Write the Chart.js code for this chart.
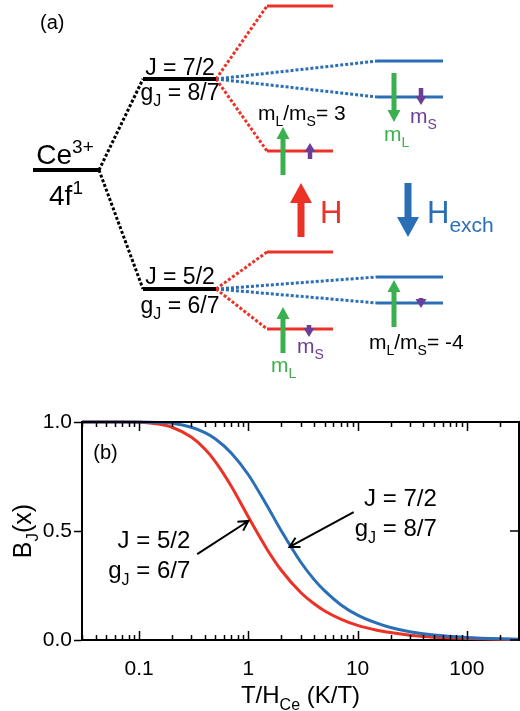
<!DOCTYPE html>
<html>
<head>
<meta charset="utf-8">
<script src="https://cdn.jsdelivr.net/npm/chart.js@4.4.1/dist/chart.umd.min.js"></script>
<style>
  html, body { margin: 0; padding: 0; background: #fff; }
  #wrap { position: relative; width: 520px; height: 711px; }
  #levels { position: absolute; left: 0; top: 0; }
  #brillouin { position: absolute; left: 0; top: 390px; }
</style>
</head>
<body>
<div id="wrap">
  <canvas id="levels" width="520" height="390"></canvas>
  <canvas id="brillouin" width="520" height="321"></canvas>
</div>
<script>
const FONT = '"Liberation Sans", Arial, Helvetica, sans-serif';
const RED = '#ec3127', BLUE = '#2a6fb6', GREEN = '#3bb04f', PURPLE = '#6a3f97';

// (a) level scheme, diagram units: x across, E upwards
const colIon = [33, 99];
const colJ = [143, 216];
const colZeeman = [267, 333];
const colExch = [377, 443];
const ionE = 220;
const jE = [311, 101];                    // J = 7/2, J = 5/2
const zeemanE = [[384, 239], [138, 61]];  // split by H
const exchE = [[329, 293], [113, 87]];    // split by H_exch

// moment arrows [x, from E, to E]
const mLArrows = [[283, 215, 263], [394, 317, 268], [283, 37, 83], [394, 63, 110]];
const mSArrows = [[310, 231, 247], [421, 302, 285], [309, 65, 53], [421, 92, 82]];
const fieldArrow = [301, 153, 207];
const exchArrow = [408, 207, 153];

// (b) Brillouin curves
const tOverH = [0.03, 0.05, 0.07, 0.1, 0.15, 0.2, 0.3, 0.4, 0.5, 0.7, 1, 1.5, 2, 3, 4, 5, 7, 10, 15, 20, 30, 50, 100, 200, 300];
const bJ52 = [1.000, 1.000, 1.000, 0.999, 0.991, 0.976, 0.931, 0.876, 0.817, 0.704, 0.564, 0.412, 0.320, 0.219, 0.166, 0.133, 0.096, 0.067, 0.045, 0.034, 0.022, 0.013, 0.007, 0.003, 0.002];
const bJ72 = [1.000, 1.000, 1.000, 1.000, 0.998, 0.994, 0.976, 0.951, 0.922, 0.857, 0.758, 0.611, 0.501, 0.359, 0.277, 0.225, 0.162, 0.114, 0.077, 0.057, 0.038, 0.023, 0.012, 0.006, 0.004];
const xMajor = [0.1, 1, 10, 100];
const yMajor = [0, 0.5, 1];

// text with sub/superscripts; parts = [[text, 'n'|'sub'|'sup'], ...]
function rich(ctx, parts, x, y, size, align, color) {
  let w = 0;
  const seg = parts.map(([t, k]) => {
    const s = k === 'n' ? size : Math.round(size * 0.68);
    ctx.font = s + 'px ' + FONT;
    const sw = ctx.measureText(t).width;
    w += sw;
    return { t, s, sw, dy: k === 'sub' ? size * 0.28 : k === 'sup' ? -size * 0.4 : 0 };
  });
  let cx = align === 'right' ? x - w : align === 'center' ? x - w / 2 : x;
  ctx.fillStyle = color;
  ctx.textAlign = 'left';
  ctx.textBaseline = 'alphabetic';
  seg.forEach(g => {
    ctx.font = g.s + 'px ' + FONT;
    ctx.fillText(g.t, cx, y + g.dy);
    cx += g.sw;
  });
}

function blockArrow(ctx, x, y0, y1, stem, head, headLen, color) {
  const dir = Math.sign(y1 - y0);
  const yb = y1 - dir * headLen;
  ctx.fillStyle = color;
  ctx.fillRect(x - stem / 2, Math.min(y0, yb), stem, Math.abs(yb - y0));
  ctx.beginPath();
  ctx.moveTo(x - head / 2, yb);
  ctx.lineTo(x + head / 2, yb);
  ctx.lineTo(x, y1);
  ctx.closePath();
  ctx.fill();
}

// ---------- (a) ----------
const seg = (x0, y0, x1, y1, color, width, dash) => ({
  data: [{ x: x0, y: y0 }, { x: x1, y: y1 }],
  borderColor: color, borderWidth: width, borderDash: dash || [],
  pointRadius: 0, borderCapStyle: 'butt'
});

const levelSets = [seg(colIon[0], ionE, colIon[1], ionE, '#000', 4)];
jE.forEach((e, j) => {
  levelSets.push(seg(colIon[1], ionE, colJ[0], e, '#000', 3, [3, 2]));
  levelSets.push(seg(colJ[0], e, colJ[1], e, '#000', 4));
  zeemanE[j].forEach(z => {
    levelSets.push(seg(colJ[1], e, colZeeman[0], z, RED, 3, [3, 2]));
    levelSets.push(seg(colZeeman[0], z, colZeeman[1], z, RED, 3));
  });
  exchE[j].forEach(z => {
    levelSets.push(seg(colJ[1], e, colExch[0], z, BLUE, 3, [3, 2]));
    levelSets.push(seg(colExch[0], z, colExch[1], z, BLUE, 3));
  });
});

const levelLabels = [
  [40, 361, [['(a)', 'n']], 20, 'left', '#000'],
  [65, 226, [['Ce', 'n'], ['3+', 'sup']], 28, 'center', '#000'],
  [66, 185, [['4f', 'n'], ['1', 'sup']], 28, 'center', '#000'],
  [180, 315, [['J = 7/2', 'n']], 23, 'center', '#000'],
  [180, 290, [['g', 'n'], ['J', 'sub'], [' = 8/7', 'n']], 23, 'center', '#000'],
  [180, 106, [['J = 5/2', 'n']], 23, 'center', '#000'],
  [180, 77, [['g', 'n'], ['J', 'sub'], [' = 6/7', 'n']], 23, 'center', '#000'],
  [258, 270, [['m', 'n'], ['L', 'sub'], ['/m', 'n'], ['S', 'sub'], ['= 3', 'n']], 21, 'left', '#000'],
  [410, 267, [['m', 'n'], ['S', 'sub']], 21, 'left', PURPLE],
  [384, 249, [['m', 'n'], ['L', 'sub']], 21, 'left', GREEN],
  [320, 167, [['H', 'n']], 31, 'left', RED],
  [427, 167, [['H', 'n'], ['exch', 'sub']], 31, 'left', BLUE],
  [297, 37, [['m', 'n'], ['S', 'sub']], 21, 'left', PURPLE],
  [271, 18, [['m', 'n'], ['L', 'sub']], 21, 'left', GREEN],
  [369, 41, [['m', 'n'], ['L', 'sub'], ['/m', 'n'], ['S', 'sub'], ['= -4', 'n']], 21, 'left', '#000']
];

const schemeDecor = {
  id: 'schemeDecor',
  afterDatasetsDraw(chart) {
    const { ctx, scales: { x, y } } = chart;
    ctx.save();
    const X = v => x.getPixelForValue(v), Y = v => y.getPixelForValue(v);
    mLArrows.forEach(([ax, a0, a1]) => blockArrow(ctx, X(ax), Y(a0), Y(a1), 5, 13, 12, GREEN));
    mSArrows.forEach(([ax, a0, a1]) => blockArrow(ctx, X(ax), Y(a0), Y(a1), 4.5, 11, 9, PURPLE));
    blockArrow(ctx, X(fieldArrow[0]), Y(fieldArrow[1]), Y(fieldArrow[2]), 7, 22, 20, RED);
    blockArrow(ctx, X(exchArrow[0]), Y(exchArrow[1]), Y(exchArrow[2]), 7, 22, 20, BLUE);
    levelLabels.forEach(([lx, ly, parts, size, align, color]) =>
      rich(ctx, parts, X(lx), Y(ly), size, align, color));
    ctx.restore();
  }
};

new Chart(document.getElementById('levels'), {
  type: 'line',
  data: { datasets: levelSets },
  options: {
    responsive: false,
    animation: false,
    layout: { padding: 0 },
    plugins: { legend: { display: false }, tooltip: { enabled: false } },
    scales: {
      x: { type: 'linear', min: 0, max: 520, display: false },
      y: { type: 'linear', min: 0, max: 390, display: false }
    }
  },
  plugins: [schemeDecor]
});

// ---------- (b) ----------
const curveNotes = [
  { tip: [1.0, 0.546], tail: [0.34, 0.394], textX: 0.294, rows: [0.459, 0.321],
    lines: [[['J = 5/2', 'n']], [['g', 'n'], ['J', 'sub'], [' = 6/7', 'n']]] },
  { tip: [2.38, 0.427], tail: [9.2, 0.587], textX: 53, rows: [0.651, 0.514],
    lines: [[['J = 7/2', 'n']], [['g', 'n'], ['J', 'sub'], [' = 8/7', 'n']]] }
];

const frameDecor = {
  id: 'frameDecor',
  afterDraw(chart) {
    const { ctx, chartArea: a, scales: { x, y } } = chart;
    ctx.save();
    ctx.strokeStyle = '#000';
    ctx.lineWidth = 2;
    ctx.beginPath();
    ctx.moveTo(a.left, a.top);
    ctx.lineTo(a.right, a.top);
    ctx.lineTo(a.right, a.bottom);
    ctx.stroke();

    ctx.lineWidth = 1.5;
    const tick = (v, len) => {
      const px = Math.round(x.getPixelForValue(v)) + 0.5;
      ctx.beginPath();
      ctx.moveTo(px, a.bottom); ctx.lineTo(px, a.bottom - len);
      ctx.moveTo(px, a.top); ctx.lineTo(px, a.top + len);
      ctx.stroke();
    };
    [0.01, 0.1, 1, 10, 100].forEach(d => {
      for (let m = 2; m <= 9; m++) {
        const v = m * d;
        if (v >= x.min - 1e-9 && v <= x.max + 1e-9) tick(v, 5);
      }
    });
    xMajor.forEach(v => tick(v, 9));
    yMajor.forEach(v => {
      const py = y.getPixelForValue(v);
      ctx.beginPath(); ctx.moveTo(a.right, py); ctx.lineTo(a.right - 9, py); ctx.stroke();
    });

    // axis titles
    rich(ctx, [['T/H', 'n'], ['Ce', 'sub'], [' (K/T)', 'n']], (a.left + a.right) / 2, 313, 24, 'center', '#000');
    ctx.save();
    ctx.translate(31, (a.top + a.bottom) / 2);
    ctx.rotate(-Math.PI / 2);
    rich(ctx, [['B', 'n'], ['J', 'sub'], ['(x)', 'n']], 0, 0, 25, 'center', '#000');
    ctx.restore();

    rich(ctx, [['(b)', 'n']], x.getPixelForValue(0.038), y.getPixelForValue(0.83), 20, 'left', '#000');

    ctx.lineWidth = 2;
    curveNotes.forEach(n => {
      n.lines.forEach((parts, i) =>
        rich(ctx, parts, x.getPixelForValue(n.textX), y.getPixelForValue(n.rows[i]) + 8, 24, 'right', '#000'));
      const x0 = x.getPixelForValue(n.tail[0]), y0 = y.getPixelForValue(n.tail[1]);
      const x1 = x.getPixelForValue(n.tip[0]), y1 = y.getPixelForValue(n.tip[1]);
      const ang = Math.atan2(y1 - y0, x1 - x0);
      ctx.beginPath();
      ctx.moveTo(x0, y0); ctx.lineTo(x1, y1);
      ctx.moveTo(x1 - 11 * Math.cos(ang - 0.5), y1 - 11 * Math.sin(ang - 0.5));
      ctx.lineTo(x1, y1);
      ctx.lineTo(x1 - 11 * Math.cos(ang + 0.5), y1 - 11 * Math.sin(ang + 0.5));
      ctx.stroke();
    });
    ctx.restore();
  }
};

new Chart(document.getElementById('brillouin'), {
  type: 'line',
  data: {
    datasets: [
      { label: 'J = 7/2', data: tOverH.map((t, i) => ({ x: t, y: bJ72[i] })), borderColor: BLUE },
      { label: 'J = 5/2', data: tOverH.map((t, i) => ({ x: t, y: bJ52[i] })), borderColor: RED }
    ].map(d => Object.assign(d, { borderWidth: 3, pointRadius: 0, cubicInterpolationMode: 'monotone', clip: false }))
  },
  options: {
    responsive: false,
    animation: false,
    layout: { padding: { top: 32, right: 1, left: 0, bottom: 0 } },
    plugins: { legend: { display: false }, tooltip: { enabled: false } },
    scales: {
      x: {
        type: 'logarithmic', min: 0.03, max: 300,
        afterBuildTicks: s => { s.ticks = xMajor.map(v => ({ value: v })); },
        afterFit: s => { s.height = 71; },
        grid: { display: false },
        border: { display: true, color: '#000', width: 2 },
        ticks: { color: '#000', font: { family: FONT, size: 21 }, padding: 9, maxRotation: 0, callback: v => String(v) }
      },
      y: {
        type: 'linear', min: 0, max: 1,
        afterBuildTicks: s => { s.ticks = yMajor.map(v => ({ value: v })); },
        afterFit: s => { s.width = 82; },
        grid: { drawOnChartArea: false, tickLength: 8, tickColor: '#000', tickWidth: 1.5 },
        border: { display: true, color: '#000', width: 2 },
        ticks: { color: '#000', font: { family: FONT, size: 21 }, padding: 2, callback: v => v.toFixed(1) }
      }
    }
  },
  plugins: [frameDecor]
});
</script>
</body>
</html>
